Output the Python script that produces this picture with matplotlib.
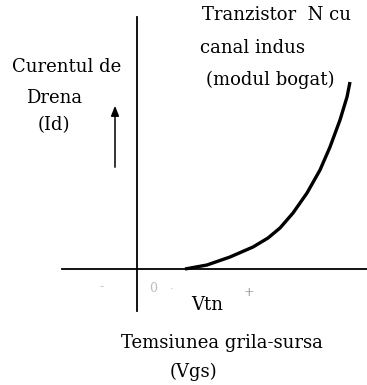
import matplotlib
matplotlib.use("Agg")
import matplotlib.pyplot as plt

# Curve: gate-source voltage vs drain current (arbitrary units)
vgs = [4.8, 7.0, 9.3, 11.6, 13.1, 14.3, 15.6, 17.0, 18.3, 19.3, 20.3, 21.0, 21.3]
i_d = [0.0, 0.4, 1.2, 2.2, 3.1, 4.1, 5.6, 7.6, 9.9, 12.2, 14.9, 17.2, 18.7]

title_lines = ["Tranzistor  N cu", "canal indus", "(modul bogat)"]
ylabel_lines = ["Curentul de", "Drena", "(Id)"]
xlabel_lines = ["Temsiunea grila-sursa", "(Vgs)"]
tick_marks = ["-", "0", "·", "+"]
vtn_label = "Vtn"

fig = plt.figure(figsize=(3.67, 3.85), dpi=100)
ax = fig.add_axes([0, 0, 1, 1])
ax.set_xlim(-13.7, 23.0)
ax.set_ylim(-11.6, 26.9)
ax.axis("off")

font = "DejaVu Serif"
fs = 13

# axes lines
ax.plot([0, 0], [-4.2, 25.2], color="black", lw=1.3)
ax.plot([-7.5, 23.0], [0, 0], color="black", lw=1.3)

# curve
ax.plot(vgs, i_d, color="black", lw=2.4, solid_capstyle="butt", solid_joinstyle="round")

# arrow
ax.annotate("", xy=(-2.2, 16.6), xytext=(-2.2, 9.9),
            arrowprops=dict(arrowstyle="-|>,head_length=0.5,head_width=0.2",
                            color="black", lw=1.1, mutation_scale=12))

def t(x, y, s, **kw):
    ax.text(x, y, s, ha="center", va="center", fontsize=kw.pop("fontsize", fs),
            family=font, **kw)

t(14.0, 25.4, title_lines[0])
t(11.6, 22.1, title_lines[1])
t(13.3, 18.9, title_lines[2])
t(-7.0, 20.2, ylabel_lines[0])
t(-8.3, 17.1, ylabel_lines[1])
t(-8.3, 14.4, ylabel_lines[2])

# tick markers
t(-3.5, -1.8, tick_marks[0], color="#bbbbbb", fontsize=9)
t(1.6, -2.0, tick_marks[1], color="#bbbbbb", fontsize=9)
t(3.5, -2.1, tick_marks[2], color="#cccccc", fontsize=8)
t(11.2, -2.3, tick_marks[3], color="#999999", fontsize=9)
t(7.0, -3.6, vtn_label)

t(8.5, -7.4, xlabel_lines[0])
t(5.6, -10.3, xlabel_lines[1])

fig.savefig("out.png", dpi=100)
